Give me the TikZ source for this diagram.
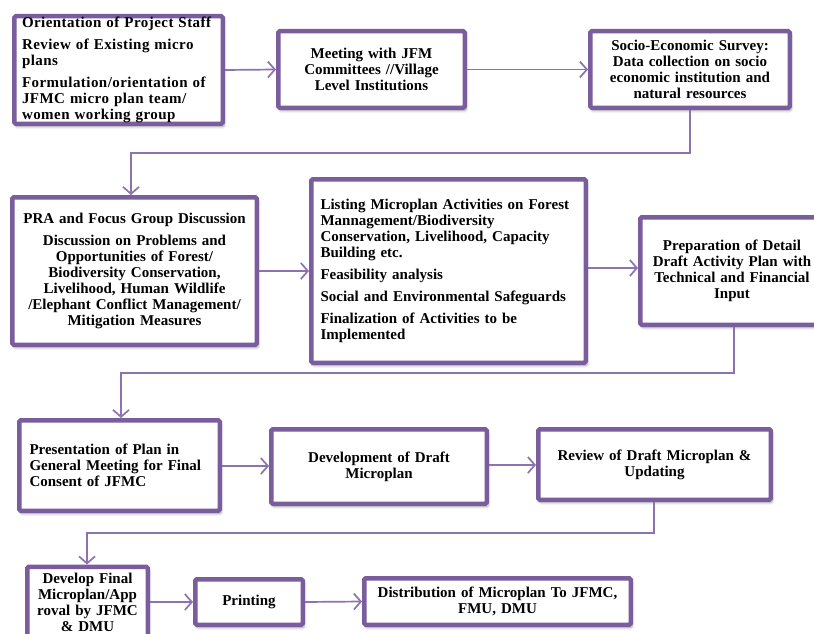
\documentclass[tikz,border=0pt]{standalone}
\usepackage{fontspec}
\setmainfont{Liberation Serif}
\newfontfamily\widefont[LetterSpace=3]{Liberation Serif}
\usetikzlibrary{arrows.meta,shadows.blur}
\definecolor{boxc}{HTML}{7A5D9C}
\definecolor{linkc}{HTML}{8D72B0}
\tikzset{
  box/.style={draw=boxc, line width=4.5pt, fill=white, rounded corners=1.5pt,
    inner sep=0pt, font=\bfseries\fontsize{15}{16}\selectfont,
    blur shadow={shadow xshift=1.5pt, shadow yshift=-3pt, shadow blur steps=6,
      shadow blur radius=2.5pt, shadow opacity=35}},
  link/.style={draw=linkc, line width=1.7pt,
    -{Straight Barb[length=7pt,width=16pt,line width=1.7pt]}},
}
\newcommand{\psep}{\\[6pt]}
\begin{document}
\begin{tikzpicture}[x=1pt,y=-1pt]
\useasboundingbox (0,0) rectangle (814,634);

% ---- row 1
\node[box, minimum width=208.5, minimum height=107.5, text width=193, align=left,
      font=\widefont\bfseries\fontsize{15}{16}\selectfont] (b1) at (118.5,70)
  {Orientation of Project Staff\psep
   Review of Existing micro\\ plans\psep
   Formulation/orientation of\\ JFMC micro plan team/\\ women working group};
\node[box, minimum width=186.5, minimum height=76.5, text width=175, align=center] (b2) at (371.5,69.5)
  {Meeting with JFM\\ Committees //Village\\ Level Institutions};
\node[box, minimum width=199.5, minimum height=76.5, text width=192, align=center] (b3) at (690,69.5)
  {Socio-Economic Survey:\\ Data collection on socio\\ economic institution and\\ natural resources};

% ---- row 2
\node[box, minimum width=244.5, minimum height=147.5, text width=238, align=center] (b4) at (134.5,271)
  {PRA and  Focus Group Discussion\psep
   Discussion on Problems and\\ Opportunities of Forest/\\ Biodiversity Conservation,\\
   Livelihood, Human Wildlife\\ /Elephant Conflict Management/\\ Mitigation Measures};
\node[box, minimum width=274.5, minimum height=183.5, text width=256, align=left] (b5) at (448.5,271)
  {Listing Microplan Activities on Forest\\ Mannagement/Biodiversity\\
   Conservation, Livelihood, Capacity\\ Building etc.\psep
   Feasibility analysis\psep
   Social and Environmental Safeguards\psep
   Finalization of Activities to be\\ Implemented};
\node[box, minimum width=183.5, minimum height=107.5, text width=180, align=center] (b6) at (732,271)
  {Preparation of Detail\\ Draft Activity Plan with\\ Technical and Financial\\ Input};

% ---- row 3
\node[box, minimum width=200.5, minimum height=90.5, text width=180, align=left] (b7) at (119.5,465.5)
  {Presentation of Plan in\\ General Meeting for Final\\ Consent of JFMC};
\node[box, minimum width=215.5, minimum height=74.5, text width=205, align=center] (b8) at (379,466.5)
  {Development of Draft\\ Microplan};
\node[box, minimum width=232.5, minimum height=70.5, text width=225, align=center] (b9) at (654.5,464.5)
  {Review of Draft Microplan \&\\ Updating};

% ---- row 4
\node[box, minimum width=120.5, minimum height=70.5, text width=118, align=center] (b10) at (87.5,602)
  {Develop Final\\ Microplan/App\\ roval by JFMC\\ \& DMU};
\node[box, minimum width=107.5, minimum height=45.5, text width=100, align=center] (b11) at (249,602)
  {Printing};
\node[box, minimum width=266.5, minimum height=46.5, text width=262, align=center] (b12) at (497.5,601.5)
  {Distribution of Microplan To JFMC,\\ FMU, DMU};

% ---- bends of the return lines
\coordinate (r1a) at (690,153);
\coordinate (r1b) at (131,153);
\coordinate (r2a) at (734,373);
\coordinate (r2b) at (121,373);
\coordinate (r3a) at (654,533);
\coordinate (r3b) at (87,533);

% ---- connectors
\draw[link] (b1.east) -- (b2.west);
\draw[link] (b2.east) -- (b3.west);
\draw[link] (b3.south) -- (r1a) -- (r1b) -- (r1b |- b4.north);
\draw[link] (b4.east) -- (b5.west |- b4.east);
\draw[link] (b5.east |- 0,268) -- (b6.west |- 0,268);
\draw[link] (r2a |- b6.south) -- (r2a) -- (r2b) -- (r2b |- b7.north);
\draw[link] (b7.east |- 0,466) -- (b8.west |- 0,466);
\draw[link] (b8.east |- 0,465) -- (b9.west |- 0,465);
\draw[link] (r3a |- b9.south) -- (r3a) -- (r3b) -- (r3b |- b10.north);
\draw[link] (b10.east) -- (b11.west);
\draw[link] (b11.east) -- (b12.west);
\end{tikzpicture}
\end{document}
